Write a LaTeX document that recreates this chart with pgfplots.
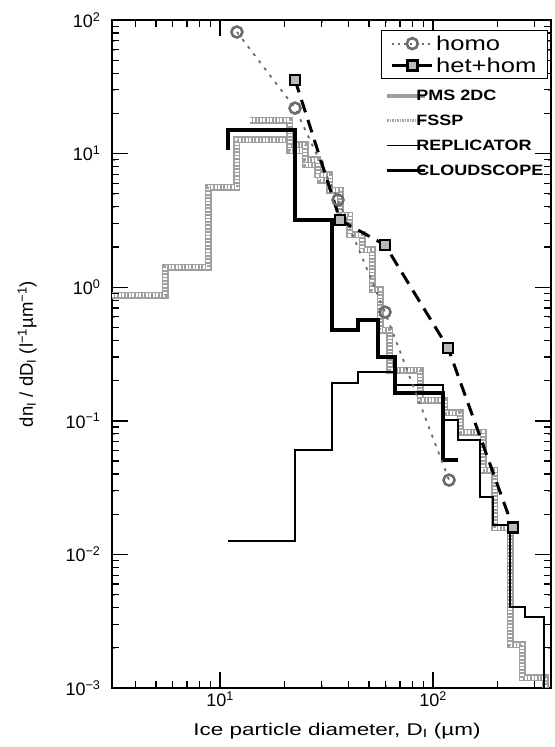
\documentclass[border=0pt]{standalone}
\usepackage{fontspec}
\setmainfont{Liberation Sans}
\newfontfamily\widefont[FakeStretch=1.32]{Liberation Sans}
\newfontfamily\legfont[FakeStretch=1.28]{Liberation Sans}
\newfontfamily\smlegfont[FakeStretch=1.2]{Liberation Sans}
\usepackage{pgfplots}
\usepackage{pgfplotstable}
\pgfplotsset{compat=1.18}

% FSSP (gray, left part)
\pgfplotstableread{
x y
3.11 0.874
5.52 0.874
5.52 1.416
8.78 1.416
8.78 5.62
12.0 5.62
12.0 12.65
21.3 12.65
21.3 10.6
25.1 10.6
25.1 8.22
29.5 8.22
29.5 6.34
33.0 6.34
}\fssp

% PMS 2DC (gray, right part)
\pgfplotstableread{
x y
13.8 17.8
21.3 17.8
21.3 11.6
25.1 11.6
25.1 8.96
28.8 8.96
28.8 6.92
32.8 6.92
32.8 5.34
36.6 5.34
36.6 3.47
40.7 3.47
40.7 2.46
46.4 2.46
46.4 1.90
51.7 1.90
51.7 0.953
56.4 0.953
56.4 0.478
62.8 0.478
62.8 0.240
86.9 0.240
86.9 0.143
113.8 0.143
113.8 0.1144
133.9 0.1144
133.9 0.0824
171.7 0.0824
171.7 0.0428
195.4 0.0428
195.4 0.0158
230.0 0.0158
230.0 0.0021
261.7 0.0021
261.7 0.00119
335.7 0.00119
335.7 0.001
}\pms

\tikzset{
  tickln/.style={black, line width=1.2bp},
  majtickln/.style={black, line width=1.4bp},
}

\pgfplotsset{
  hatchbase/.style={draw=gray!75, line width=7bp},
  hatchwhite/.style={draw=white, line width=4.6bp, dash pattern=on 1.7bp off 1.7bp},
  hatchmid/.style={draw=gray!75, line width=1.8bp, dash pattern=on 1.7bp off 1.7bp, dash phase=1.7bp},
  homostyle/.style={gray!85!black, line width=1.8bp, dash pattern=on 3bp off 6bp,
    mark=o, mark size=5.5bp, mark options={solid, line width=2.6bp, draw=gray!85!black}},
  hetstyle/.style={black, line width=3bp, dash pattern=on 13bp off 8bp,
    mark=square*, mark size=5bp, mark options={solid, line width=2.8bp, fill=gray!55, draw=black}},
  legend image code/.code={%
    \draw[mark repeat=2, mark phase=2, #1] plot coordinates {(0bp,0bp) (20bp,0bp) (40bp,0bp)};},
  shortimage/.style={legend image code/.code={%
    \draw[##1] (0bp,0bp) -- (38bp,0bp);}},
}

\begin{document}
\begin{tikzpicture}
\begin{axis}[
  name=main,
  scale only axis, width=439bp, height=668bp,
  xmode=log, ymode=log,
  xmin=3.11, xmax=358, ymin=1e-3, ymax=1e2,
  xtick={10,100},
  xticklabels={10\textsuperscript{1},10\textsuperscript{2}},
  ytick={1e-3,1e-2,1e-1,1,10,100},
  yticklabels={10\textsuperscript{−3},10\textsuperscript{−2},10\textsuperscript{−1},10\textsuperscript{0},10\textsuperscript{1},10\textsuperscript{2}},
  axis line style={line width=1.6bp},
  ticklabel style={font=\fontsize{18bp}{20bp}\selectfont},
  yticklabel style={xshift=-8bp},
  xlabel={\widefont Ice particle diameter, D\textsubscript{I} (µm)},
  xlabel style={at={(axis description cs:0.5125,0)}, anchor=base, yshift=-47bp, font=\fontsize{17bp}{19bp}\selectfont},
  ylabel={dn\textsubscript{I} / dD\textsubscript{I} (l\textsuperscript{−1}µm\textsuperscript{−1})},
  ylabel style={at={(axis description cs:-0.180,0.5)}, anchor=base, font=\fontsize{18.5bp}{20bp}\selectfont},
  legend cell align=left,
  legend style={at={(axis description cs:0.9932,0.985)}, anchor=north east,
    draw=black, line width=1.2bp, font=\legfont\fontsize{20bp}{22bp}\selectfont,
    nodes={inner ysep=0bp, inner xsep=2bp}, row sep=6bp, inner xsep=9bp, inner ysep=5bp},
]
\addplot[hatchbase, forget plot] table {\fssp};
\addplot[hatchwhite, forget plot] table {\fssp};
\addplot[hatchmid, forget plot] table {\fssp};
\addplot[hatchbase, forget plot] table {\pms};
\addplot[hatchwhite, forget plot] table {\pms};
\addplot[hatchmid, forget plot] table {\pms};

% REPLICATOR
\addplot[black, line width=2bp, forget plot] coordinates {
  (10.9,0.0126) (22.5,0.0126) (22.5,0.0604) (33.6,0.0604) (33.6,0.192)
  (44.4,0.192) (44.4,0.232) (66.3,0.232) (66.3,0.185) (111.4,0.185)
  (111.4,0.1014) (131.0,0.1014) (131.0,0.0718) (166.2,0.0718) (166.2,0.0269)
  (191.3,0.0269) (191.3,0.0166) (230.0,0.0166) (230.0,0.00404) (270.4,0.00404)
  (270.4,0.0034) (332,0.0034) (332,0.001)
};

% CLOUDSCOPE
\addplot[black, line width=4.5bp, forget plot] coordinates {
  (10.9,10.6) (10.9,15.0) (22.5,15.0) (22.5,3.18) (33.6,3.18) (33.6,0.478)
  (44.4,0.478) (44.4,0.568) (55.2,0.568) (55.2,0.300) (66.3,0.300) (66.3,0.161)
  (111.4,0.161) (111.4,0.0509) (131.0,0.0509)
};

% homo
\addplot[homostyle, forget plot] coordinates {
  (12.0,81.3) (22.5,21.9) (35.8,4.50) (59.5,0.651) (118.9,0.036)
};

% het+hom
\addplot[hetstyle, forget plot] coordinates {
  (22.5,35.6) (36.6,3.18) (59.5,2.07) (117.6,0.351) (237.5,0.0158)
};

% inward tick marks, given in axis units (7bp / 16bp long)
\pgfplotsinvokeforeach{4,5,6,7,8,9,20,30,40,50,60,70,80,90,200,300}{
  \draw[tickln] (axis cs:#1,0.001) -- (axis cs:#1,0.001128);
  \draw[tickln] (axis cs:#1,100) -- (axis cs:#1,88.65);
}
\pgfplotsinvokeforeach{10,100}{
  \draw[majtickln] (axis cs:#1,0.001) -- (axis cs:#1,0.001317);
  \draw[majtickln] (axis cs:#1,100) -- (axis cs:#1,75.9);
}
\pgfplotsinvokeforeach{0.002,0.003,0.004,0.005,0.006,0.007,0.008,0.009,
    0.02,0.03,0.04,0.05,0.06,0.07,0.08,0.09,
    0.2,0.3,0.4,0.5,0.6,0.7,0.8,0.9,
    2,3,4,5,6,7,8,9,20,30,40,50,60,70,80,90}{
  \draw[tickln] (axis cs:3.11,#1) -- (axis cs:3.354,#1);
  \draw[tickln] (axis cs:358,#1) -- (axis cs:331.9,#1);
}
\pgfplotsinvokeforeach{0.01,0.1,1,10}{
  \draw[majtickln] (axis cs:3.11,#1) -- (axis cs:3.698,#1);
  \draw[majtickln] (axis cs:358,#1) -- (axis cs:301.1,#1);
}

\addlegendimage{homostyle, dash pattern=on 2bp off 4bp}
\addlegendentry{homo}
\addlegendimage{hetstyle, solid, line width=3.5bp}
\addlegendentry{het+hom}
\end{axis}

\begin{axis}[
  at={(0,0)}, anchor=south west,
  scale only axis, width=439bp, height=668bp,
  hide axis, xmin=0, xmax=1, ymin=0, ymax=1,
  legend cell align=left,
  shortimage,
  legend style={at={(axis description cs:0.622,0.896)}, anchor=north west,
    draw=none, fill=none, font=\smlegfont\fontsize{15bp}{17bp}\selectfont\bfseries,
    nodes={inner ysep=0bp, inner xsep=2bp}, row sep=13bp, inner ysep=0bp, inner xsep=0bp},
]
\addlegendimage{draw=gray!75, line width=4bp}
\addlegendentry{\hspace*{-13bp}PMS 2DC}
\addlegendimage{draw=gray!70, line width=3bp, dash pattern=on 1.5bp off 1bp}
\addlegendentry{\hspace*{-13bp}FSSP}
\addlegendimage{black, line width=1.2bp}
\addlegendentry{\hspace*{-13bp}REPLICATOR}
\addlegendimage{black, line width=3bp}
\addlegendentry{\hspace*{-13bp}CLOUDSCOPE}
\end{axis}

\pgfresetboundingbox
\path (-112bp,-59bp) rectangle (443bp,688bp);
\end{tikzpicture}
\end{document}
